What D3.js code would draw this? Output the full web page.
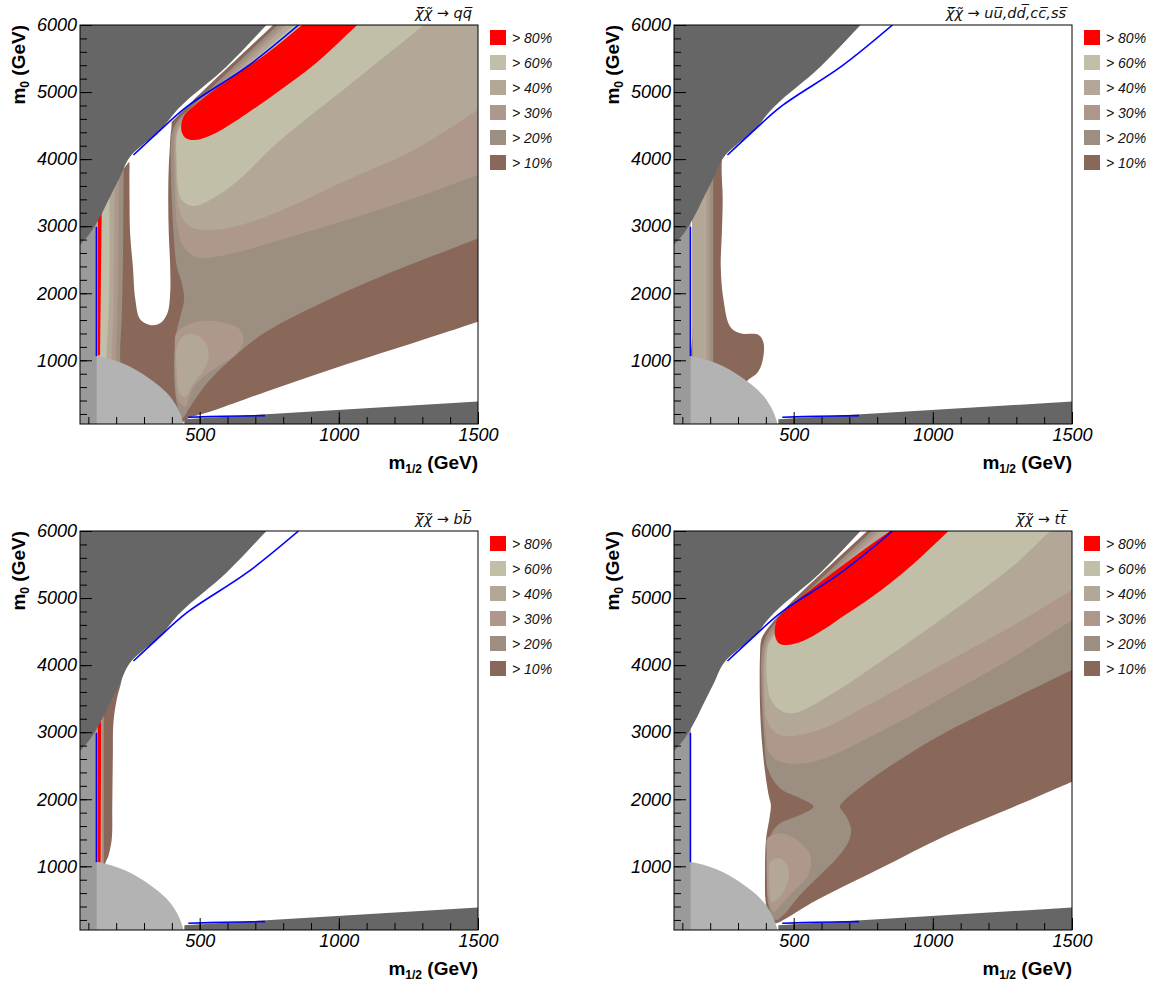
<!DOCTYPE html>
<html><head><meta charset="utf-8">
<script src="https://cdn.jsdelivr.net/npm/d3@7"></script>
<style>body{margin:0;background:#fff;}svg{display:block}</style>
</head><body><svg id="c" width="1158" height="986"></svg>
<script>
// ---------- axis / legend text ----------
const xMajor = [500, 1000, 1500];
const xMinor = [100,200,300,400,500,600,700,800,900,1000,1100,1200,1300,1400,1500];
const yMajor = [1000, 2000, 3000, 4000, 5000, 6000];
const yMinor = [200,400,600,800,1000,1200,1400,1600,1800,2000,2200,2400,2600,2800,3000,3200,3400,3600,3800,4000,4200,4400,4600,4800,5000,5200,5400,5600,5800,6000];
const legendLabels = ["> 80%", "> 60%", "> 40%", "> 30%", "> 20%", "> 10%"];
const legendLevels = ["80", "60", "40", "30", "20", "10"];
const titles = [
  "\u03C7\u0303\u0305\u03C7\u0303 \u2192 qq\u0305",
  "\u03C7\u0303\u0305\u03C7\u0303 \u2192 uu\u0305,dd\u0305,cc\u0305,ss\u0305",
  "\u03C7\u0303\u0305\u03C7\u0303 \u2192 bb\u0305",
  "\u03C7\u0303\u0305\u03C7\u0303 \u2192 tt\u0305"
];

// ---------- excluded regions (m1/2, m0) in GeV ----------
const darkRegion = [[0,6500],[856,6500],[740,6000],[596,5378],[430,4782],[358,4434],[250,4036],[214,3738],[178,3440],[142,3141],[106,2893],[70,2719],[0,2380]];
const bottomWedge = [[445,50],[1500,50],[1500,385],[445,120]];
const lepEllipse = [[0,-50],[0,1085],[70,1079],[130,1064],[190,1004],[250,905],[310,756],[358,607],[394,458],[424,259],[442,50],[446,-50]];
const leftStrip = [[70,50],[130,50],[130,3100],[70,3100]];
const blueUpper = [[855,6000],[670,5378],[454,4782],[346,4384],[262,4061]];
const blueLeft = [[129,1062],[129,2990]];
const blueBottom = [[459,150],[585,165],[735,175]];

// ---------- panel 1 : qq ----------
const qq10 = [[[442,85],[550,250],[790,607],[1030,945],[1270,1263],[1500,1576],[1620,1740],[1620,6500],[892,6500],[764,6000],[472,4856],[394,4533],[262,4036],[70,2943],[40,2800],[40,-100],[430,-100]]];
const qq20 = [
  [[780,6000],[478,4806],[418,4558],[400,4384],[396,3887],[400,3390],[406,2893],[418,2396],[436,2148],[444,1899],[430,1651],[416,1402],[408,905],[416,408],[436,135],[466,309],[526,657],[610,1005],[730,1402],[910,1800],[1150,2247],[1500,2818],[1620,3014],[1620,6500],[906,6500]],
  [[70,5000],[230,5000],[228,4136],[226,3390],[224,2396],[220,1651],[214,1154],[206,300],[70,300]]
];
const qq30 = [
  [[796,6000],[484,4782],[430,4583],[410,4384],[408,3887],[412,3390],[420,2992],[442,2694],[490,2535],[610,2585],[790,2794],[1030,3092],[1270,3415],[1500,3763],[1620,3945],[1620,6500],[924,6500]],
  [[70,5000],[214,5000],[212,4136],[209,3390],[208,2396],[204,1651],[200,1154],[188,300],[70,300]],
  [[416,1402],[454,1526],[514,1591],[586,1561],[640,1477],[658,1303],[634,1104],[574,930],[514,756],[472,557],[448,309],[424,408],[412,806],[411,1154]]
];
const qq40 = [
  [[812,6000],[490,4757],[436,4558],[416,4384],[414,3887],[418,3489],[430,3191],[466,2992],[550,2943],[670,3042],[850,3340],[1030,3688],[1270,4136],[1500,4732],[1620,5043],[1620,6500],[942,6500]],
  [[70,5000],[198,5000],[196,4136],[194,3390],[192,2396],[190,1651],[184,1154],[170,300],[70,300]],
  [[420,1219],[448,1377],[490,1377],[524,1253],[532,1054],[514,855],[478,657],[448,458],[428,508],[418,806]]
];
const qq60 = [
  [[838,6000],[502,4782],[448,4583],[420,4384],[418,3887],[422,3589],[436,3390],[478,3301],[610,3589],[790,4285],[1030,5080],[1306,6000],[1456,6500],[976,6500]],
  [[70,5000],[180,5000],[178,4136],[176,3390],[176,2396],[172,1651],[166,1154],[150,300],[70,300]]
];
const qq80 = [
  [[868,6000],[742,5577],[610,5204],[490,4831],[442,4633],[434,4434],[448,4319],[484,4285],[550,4374],[670,4682],[790,5030],[910,5403],[1066,6000],[1197,6500],[1017,6500]],
  [[134,3240],[148,3240],[142,1075],[134,1075]]
];
const qqWhite = [[[250,4036],[394,4583],[394,4285],[389,3887],[387,3390],[389,2893],[394,2396],[394,1998],[384,1700],[358,1551],[322,1526],[286,1611],[269,1899],[260,2396],[250,2893],[248,3390],[248,3887]]];

// ---------- panel 2 : uu,dd,cc,ss ----------
const uu10 = [[[137,4881],[274,4881],[242,3986],[245,3390],[242,2893],[238,2396],[248,1899],[272,1501],[308,1402],[374,1377],[392,1253],[386,955],[368,806],[344,731],[332,681],[322,50],[137,50],[137,1500],[137,3000]]];
const uu20 = [[[137,4881],[211,4881],[211,657],[137,657]]];
const uu30 = [[[137,4881],[199,4881],[199,657],[137,657]]];
const uu40 = [[[137,4881],[187,4881],[187,657],[137,657]]];

// ---------- panel 3 : bb ----------
const bb10 = [[[70,4384],[238,4384],[220,3787],[202,3489],[190,3141],[188,2645],[186,1899],[184,1402],[172,1154],[160,1030],[160,657],[70,657]]];
const bb20 = [[[70,4384],[156,4384],[156,657],[70,657]]];
const bb40 = [[[70,4384],[150,4384],[150,657],[70,657]]];
const bb80 = [[[134,3160],[146,3160],[144,1060],[134,1060]]];

// ---------- panel 4 : tt ----------
const tt10 = [[[434,150],[572,473],[812,970],[1052,1467],[1292,1889],[1500,2262],[1620,2477],[1620,6500],[892,6500],[764,6000],[472,4856],[400,4508],[384,4384],[379,4136],[379,3405],[385,2908],[397,2411],[410,2063],[418,1914],[413,1715],[401,1417],[397,920],[401,423],[422,174]]];
const tt20 = [[[780,6000],[478,4806],[412,4508],[392,4334],[384,4136],[386,3405],[394,2908],[406,2461],[451,2162],[523,2013],[571,1889],[523,1765],[451,1641],[421,1492],[409,1168],[406,920],[409,423],[434,199],[463,274],[523,572],[595,870],[655,1119],[697,1367],[706,1566],[686,1765],[666,1889],[678,1964],[750,2212],[870,2560],[1050,3007],[1290,3504],[1500,3927],[1620,4168],[1620,6500],[906,6500]]];
const tt30 = [
  [[796,6000],[484,4782],[424,4508],[400,4334],[392,4136],[392,3405],[401,2908],[410,2709],[451,2560],[571,2560],[812,3007],[1052,3554],[1292,4125],[1500,4672],[1620,4988],[1620,6500],[924,6500]],
  [[406,1417],[451,1492],[511,1392],[559,1169],[553,870],[511,671],[463,472],[427,323],[409,522],[403,920],[403,1218]]
];
const tt40 = [
  [[812,6000],[490,4757],[436,4508],[406,4334],[396,4136],[397,3405],[406,3157],[451,2958],[571,3007],[812,3504],[1052,4051],[1292,4598],[1500,5120],[1620,5421],[1620,6500],[942,6500]],
  [[416,1069],[451,1119],[481,970],[475,721],[445,522],[421,472],[413,671],[411,920]]
];
const tt60 = [[[838,6000],[502,4782],[448,4533],[412,4334],[403,4136],[406,3703],[416,3504],[451,3330],[499,3281],[631,3554],[812,4051],[1052,4747],[1292,5492],[1421,6000],[1548,6500],[976,6500]]];
const tt80 = [[[846,6000],[714,5606],[571,5159],[475,4836],[439,4662],[433,4439],[451,4314],[499,4314],[571,4439],[690,4762],[812,5110],[930,5508],[1056,6000],[1184,6500],[1013,6500]]];

// ---------- styling ----------
const levelColors = {"80":"#ff0000","60":"#c2bfa9","40":"#b3a797","30":"#ae988b","20":"#9c8e80","10":"#896859"};
const drawOrder = ["10","20","30","40","60","80"];
const W = 398, H = 399;

const panels = [
  {origin:[80,25],  contours:{"10":qq10,"20":qq20,"30":qq30,"40":qq40,"60":qq60,"80":qq80}, white:qqWhite, title:titles[0]},
  {origin:[674,25], contours:{"10":uu10,"20":uu20,"30":uu30,"40":uu40}, white:[], title:titles[1]},
  {origin:[80,531], contours:{"10":bb10,"20":bb20,"40":bb40,"80":bb80}, white:[], title:titles[2]},
  {origin:[674,531],contours:{"10":tt10,"20":tt20,"30":tt30,"40":tt40,"60":tt60,"80":tt80}, white:[], title:titles[3]}
];

const svg = d3.select("#c");
const x = d3.scaleLinear().domain([70,1500]).range([0,W]);
const y = d3.scaleLinear().domain([50,6000]).range([H,0]);
const smoothArea = d3.line().x(d=>x(d[0])).y(d=>y(d[1])).curve(d3.curveCatmullRomClosed.alpha(0.5));
const sharpArea = d3.line().x(d=>x(d[0])).y(d=>y(d[1])).curve(d3.curveLinearClosed);
const area = poly => (poly.length > 4 ? smoothArea : sharpArea)(poly);
const path = d3.line().x(d=>x(d[0])).y(d=>y(d[1])).curve(d3.curveCatmullRom.alpha(0.5));
const defs = svg.append("defs");
defs.append("clipPath").attr("id","plotclip").append("rect").attr("width",W).attr("height",H);

const tickFont = "'Liberation Sans', Arial, Helvetica, sans-serif";

panels.forEach((p,i)=>{
  const g = svg.append("g").attr("transform",`translate(${p.origin[0]},${p.origin[1]})`);
  const body = g.append("g").attr("clip-path","url(#plotclip)");
  drawOrder.forEach(lv=>{
    (p.contours[lv]||[]).forEach(poly=>{
      body.append("path").attr("d",area(poly)).attr("fill",levelColors[lv]);
    });
  });
  p.white.forEach(poly=> body.append("path").attr("d",area(poly)).attr("fill","#ffffff"));
  body.append("path").attr("d",area(lepEllipse)).attr("fill","#b3b3b3");
  body.append("path").attr("d",area(leftStrip)).attr("fill","#9a9a9a");
  body.append("path").attr("d",area(darkRegion)).attr("fill","#666666");
  body.append("path").attr("d",area(bottomWedge)).attr("fill","#666666");
  [blueUpper, blueLeft, blueBottom].forEach(l=>{
    body.append("path").attr("d",path(l)).attr("fill","none").attr("stroke","#0000ff").attr("stroke-width",1.6);
  });

  // axes
  const xMin = g.append("g").attr("transform",`translate(0,${H})`)
    .call(d3.axisBottom(x).tickValues(xMinor).tickSize(-7).tickFormat(""));
  const xMaj = g.append("g").attr("transform",`translate(0,${H})`)
    .call(d3.axisBottom(x).tickValues(xMajor).tickSize(-12).tickPadding(4).tickFormat(d3.format("d")));
  const yMin = g.append("g").call(d3.axisLeft(y).tickValues(yMinor).tickSize(-7).tickFormat(""));
  const yMaj = g.append("g").call(d3.axisLeft(y).tickValues(yMajor).tickSize(-12).tickPadding(3).tickFormat(d3.format("d")));
  [xMin,xMaj,yMin,yMaj].forEach(a=>{
    a.select(".domain").remove();
    a.selectAll("line").attr("stroke","#000");
    a.selectAll("text").attr("font-size",18).attr("font-style","italic").attr("font-family",tickFont).attr("fill","#000");
  });
  g.append("rect").attr("width",W).attr("height",H).attr("fill","none").attr("stroke","#000").attr("stroke-width",1);

  // axis titles
  const xl = g.append("text").attr("x",W).attr("y",H+45).attr("text-anchor","end")
    .attr("font-family",tickFont).attr("font-weight","bold").attr("font-size",19);
  xl.append("tspan").text("m");
  xl.append("tspan").attr("font-size",12).attr("dy",4).text("1/2");
  xl.append("tspan").attr("dy",-4).text(" (GeV)");
  const yl = g.append("text").attr("transform","translate(-55,0) rotate(-90)").attr("text-anchor","end")
    .attr("font-family",tickFont).attr("font-weight","bold").attr("font-size",19);
  yl.append("tspan").text("m");
  yl.append("tspan").attr("font-size",12).attr("dy",4).text("0");
  yl.append("tspan").attr("dy",-4).text(" (GeV)");

  // title
  g.append("text").attr("x",W-6).attr("y",-7).attr("text-anchor","end")
    .attr("font-family","'DejaVu Sans', sans-serif").attr("font-style","italic").attr("font-size",14.5)
    .attr("fill","#111").text(p.title);

  // legend
  legendLevels.forEach((lv,k)=>{
    g.append("rect").attr("x",W+12).attr("y",5+25*k).attr("width",16).attr("height",15).attr("fill",levelColors[lv]);
    g.append("text").attr("x",W+34).attr("y",5+25*k+7.5).attr("dy","0.36em")
      .attr("font-family",tickFont).attr("font-style","italic").attr("font-size",14).attr("fill","#111")
      .text(legendLabels[k]);
  });
});
</script></body></html>
